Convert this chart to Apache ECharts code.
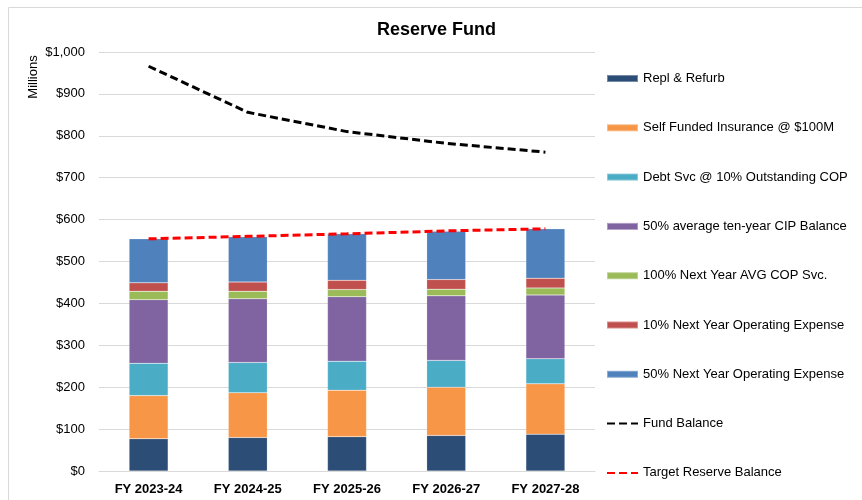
<!DOCTYPE html>
<html>
<head>
<meta charset="utf-8">
<script src="https://cdn.jsdelivr.net/npm/echarts@6/dist/echarts.min.js"></script>
<style>
  html, body { margin: 0; padding: 0; background: #fff; }
  #chart { width: 862px; height: 500px; }
</style>
</head>
<body>
<div id="chart"></div>
<script>
// values in $ millions
var years = ['FY 2023-24', 'FY 2024-25', 'FY 2025-26', 'FY 2026-27', 'FY 2027-28'];
var replRefurb   = [77, 80, 82, 85, 88];
var selfInsured  = [103, 107, 111, 115, 120];
var debtSvc      = [77, 72, 69, 64, 60];
var cipBalance   = [152, 152, 154, 154, 152];
var copSvc       = [20, 18, 17, 16, 17];
var opEx10       = [20, 22, 22, 23, 23];
var opEx50       = [105, 108, 111, 115, 118];
var fundBalance  = [966, 856, 810, 782, 761];
var targetReserve = [554, 560, 566, 573, 578];

var font = '"Liberation Sans", Arial, sans-serif';

function barSeries(name, data, color) {
    return {
        name: name,
        type: 'bar',
        stack: 'reserve',
        barWidth: 39,
        data: data,
        itemStyle: { color: color, borderColor: 'rgba(255,255,255,0.35)', borderWidth: 0.5 }
    };
}

function lineSeries(name, data, color) {
    return {
        name: name,
        type: 'line',
        data: data,
        symbol: 'none',
        z: 5,
        lineStyle: { color: color, width: 3, type: [8, 4] },
        itemStyle: { color: color }
    };
}

var option = {
    animation: false,
    textStyle: { fontFamily: font },
    title: {
        text: 'Reserve Fund',
        left: 377,
        top: 21,
        padding: 0,
        textStyle: { fontSize: 18, fontWeight: 'bold', color: '#000', fontFamily: font }
    },
    grid: { left: 99, right: 267, top: 52, bottom: 29 },
    legend: {
        orient: 'vertical',
        left: 606,
        top: 71,
        padding: 0,
        itemWidth: 31,
        itemHeight: 7,
        itemGap: 34.3,
        textStyle: { fontSize: 13, color: '#000', fontFamily: font, lineHeight: 15 },
        data: [
            { name: 'Repl & Refurb', icon: 'rect' },
            { name: 'Self Funded Insurance @ $100M', icon: 'rect' },
            { name: 'Debt Svc @ 10% Outstanding COP', icon: 'rect' },
            { name: '50% average ten-year CIP Balance', icon: 'rect' },
            { name: '100% Next Year AVG COP Svc.', icon: 'rect' },
            { name: '10% Next Year Operating Expense', icon: 'rect' },
            { name: '50% Next Year Operating Expense', icon: 'rect' },
            { name: 'Fund Balance', itemStyle: { opacity: 0 } },
            { name: 'Target Reserve Balance', itemStyle: { opacity: 0 } }
        ]
    },
    xAxis: {
        type: 'category',
        data: years,
        axisLine: { lineStyle: { color: '#D9D9D9' } },
        axisTick: { show: false },
        axisLabel: { fontSize: 13, fontWeight: 'bold', color: '#000', margin: 12 }
    },
    yAxis: {
        type: 'value',
        min: 0,
        max: 1000,
        interval: 100,
        axisLine: { show: false },
        axisTick: { show: false },
        splitLine: { lineStyle: { color: '#D9D9D9' } },
        axisLabel: {
            fontSize: 13,
            color: '#000',
            margin: 14,
            formatter: function (v) { return '$' + v.toLocaleString('en-US'); }
        }
    },
    graphic: [
        {
            type: 'rect',
            silent: true,
            shape: { x: 8.5, y: 7.5, width: 900, height: 600 },
            style: { fill: 'none', stroke: '#D9D9D9', lineWidth: 1 }
        },
        {
            type: 'text',
            x: 33,
            y: 77,
            rotation: Math.PI / 2,
            style: {
                text: 'Millions',
                fontSize: 13,
                fontFamily: font,
                fill: '#000',
                align: 'center',
                verticalAlign: 'middle'
            }
        }
    ],
    series: [
        barSeries('Repl & Refurb', replRefurb, '#2C4D75'),
        barSeries('Self Funded Insurance @ $100M', selfInsured, '#F79646'),
        barSeries('Debt Svc @ 10% Outstanding COP', debtSvc, '#4BACC6'),
        barSeries('50% average ten-year CIP Balance', cipBalance, '#8064A2'),
        barSeries('100% Next Year AVG COP Svc.', copSvc, '#9BBB59'),
        barSeries('10% Next Year Operating Expense', opEx10, '#C0504D'),
        barSeries('50% Next Year Operating Expense', opEx50, '#4F81BD'),
        lineSeries('Fund Balance', fundBalance, '#000'),
        lineSeries('Target Reserve Balance', targetReserve, '#FF0000')
    ]
};

var myChart = echarts.init(document.getElementById('chart'));
myChart.setOption(option);
</script>
</body>
</html>
